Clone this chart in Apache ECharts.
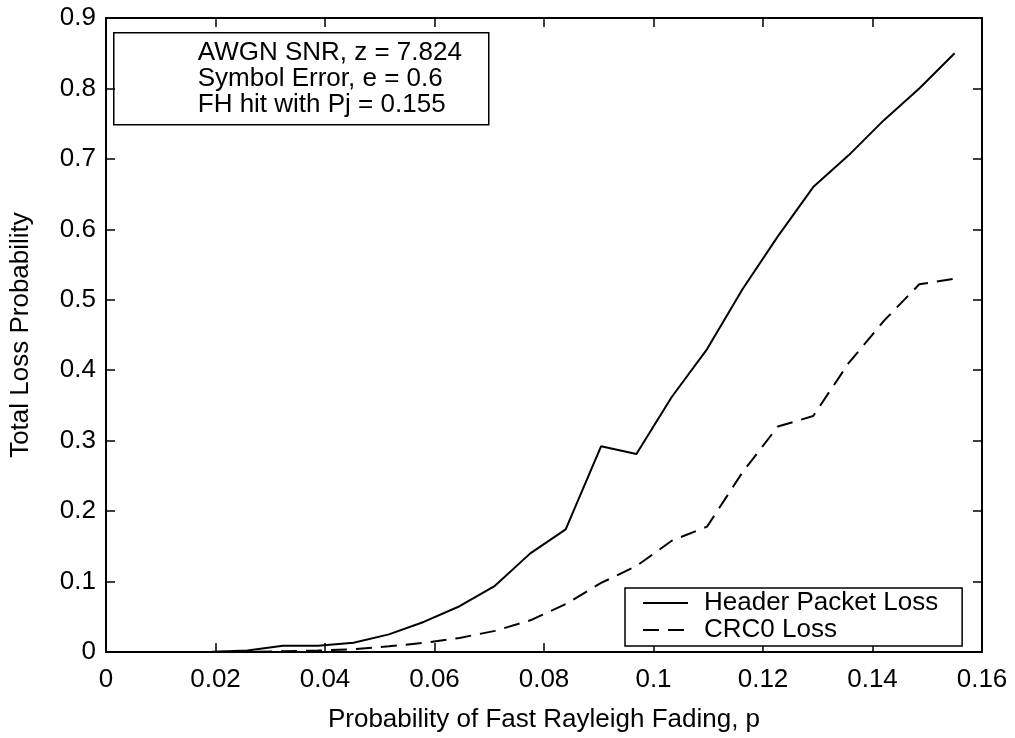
<!DOCTYPE html>
<html>
<head>
	<meta charset="utf-8">
	<title>Total Loss Probability</title>
	<script type="text/javascript" src="https://cdn.jsdelivr.net/npm/echarts@6/dist/echarts.min.js"></script>
</head>
<style type="text/css">
body {
	margin: 0;
	background: #fff;
}

#chart {
	width: 1015px;
	height: 738px;
}
</style>
<body>
	<div id="chart"></div>
</body>

<script type="text/javascript">

	// 横轴: Rayleigh 衰落概率 p
	var pValues = [0, 0.00646, 0.01292, 0.01938, 0.02583, 0.03229, 0.03875, 0.04521, 0.05167,
		0.05813, 0.06458, 0.07104, 0.0775, 0.08396, 0.09042, 0.09688, 0.10333, 0.10979,
		0.11625, 0.12271, 0.12917, 0.13563, 0.14208, 0.14854, 0.155];

	// 实线: Header Packet Loss
	var headerLoss = [0, 0, 0, 0.0005, 0.002, 0.009, 0.009, 0.013, 0.025,
		0.043, 0.065, 0.094, 0.14, 0.174, 0.292, 0.281, 0.362, 0.43,
		0.515, 0.59, 0.66, 0.705, 0.755, 0.80, 0.85];

	// 虚线: CRC0 Loss
	var crcLoss = [0, 0, 0, 0, 0, 0.001, 0.002, 0.004, 0.008,
		0.013, 0.02, 0.03, 0.045, 0.068, 0.098, 0.122, 0.158, 0.178,
		0.255, 0.32, 0.335, 0.41, 0.47, 0.522, 0.53];

	var seriesNames = ['Header Packet Loss', 'CRC0 Loss'];
	var noteLines = ['AWGN SNR, z = 7.824', 'Symbol Error, e = 0.6', 'FH hit with Pj = 0.155'];

	var font = "'Liberation Sans', Arial, sans-serif";

	function pairs(xs, ys) {
		var out = [];
		for (var i = 0; i < xs.length; i++) {
			out.push([xs[i], ys[i]]);
		}
		return out;
	}

	function fmt(v) {
		return String(+v.toFixed(2));
	}

	var Chart = echarts.init(document.getElementById('chart'));

	var tick = { show: true, inside: true, length: 9, lineStyle: { color: '#000', width: 1.5 } };
	var line = { show: true, onZero: false, lineStyle: { color: '#000', width: 2 } };

	var option = {
		animation: false,
		backgroundColor: '#fff',
		textStyle: { fontFamily: font, color: '#000' },
		grid: {
			left: 96,
			right: 33,
			top: 18,
			bottom: 77
		},
		legend: {
			data: seriesNames,
			orient: 'vertical',
			left: 625,
			top: 588,
			itemWidth: 45,
			itemHeight: 14,
			itemGap: 1,
			padding: [2, 24, 3, 17],
			borderColor: '#000',
			borderWidth: 1.5,
			backgroundColor: '#fff',
			itemStyle: { opacity: 0 },
			textStyle: { fontFamily: font, fontSize: 26, color: '#000', padding: [0, 0, 0, 11] }
		},
		xAxis: [
			{
				type: 'value',
				min: 0,
				max: 0.16,
				interval: 0.02,
				name: 'Probability of Fast Rayleigh Fading, p',
				nameLocation: 'middle',
				nameGap: 55,
				nameTextStyle: { fontFamily: font, fontSize: 26, color: '#000' },
				axisLine: line,
				axisTick: tick,
				splitLine: { show: false },
				axisLabel: { fontFamily: font, fontSize: 26, color: '#000', margin: 15, formatter: fmt }
			},
			{
				type: 'value',
				position: 'top',
				min: 0,
				max: 0.16,
				interval: 0.02,
				axisLine: line,
				axisTick: tick,
				splitLine: { show: false },
				axisLabel: { show: false }
			}
		],
		yAxis: [
			{
				type: 'value',
				min: 0,
				max: 0.9,
				interval: 0.1,
				name: 'Total Loss Probability',
				nameLocation: 'middle',
				nameGap: 72,
				nameTextStyle: { fontFamily: font, fontSize: 26, color: '#000' },
				axisLine: line,
				axisTick: tick,
				splitLine: { show: false },
				axisLabel: { fontFamily: font, fontSize: 26, color: '#000', margin: 10, formatter: fmt }
			},
			{
				type: 'value',
				position: 'right',
				min: 0,
				max: 0.9,
				interval: 0.1,
				axisLine: line,
				axisTick: tick,
				splitLine: { show: false },
				axisLabel: { show: false }
			}
		],
		graphic: [
			{
				type: 'group',
				left: 113,
				top: 32,
				children: [
					{
						type: 'rect',
						shape: { x: 0, y: 0, width: 375, height: 92 },
						style: { fill: '#fff', stroke: '#000', lineWidth: 1.5 }
					},
					{
						type: 'text',
						x: 84,
						y: 7,
						style: {
							text: noteLines.join('\n'),
							font: '26px ' + font,
							lineHeight: 26,
							fill: '#000'
						}
					}
				]
			}
		],
		series: [
			{
				name: seriesNames[0],
				type: 'line',
				symbol: 'none',
				color: '#000',
				lineStyle: { color: '#000', width: 2, type: 'solid' },
				data: pairs(pValues, headerLoss)
			},
			{
				name: seriesNames[1],
				type: 'line',
				symbol: 'none',
				color: '#000',
				lineStyle: { color: '#000', width: 2, type: [16, 9] },
				data: pairs(pValues, crcLoss)
			}
		]
	};

	Chart.setOption(option);
</script>
</html>
